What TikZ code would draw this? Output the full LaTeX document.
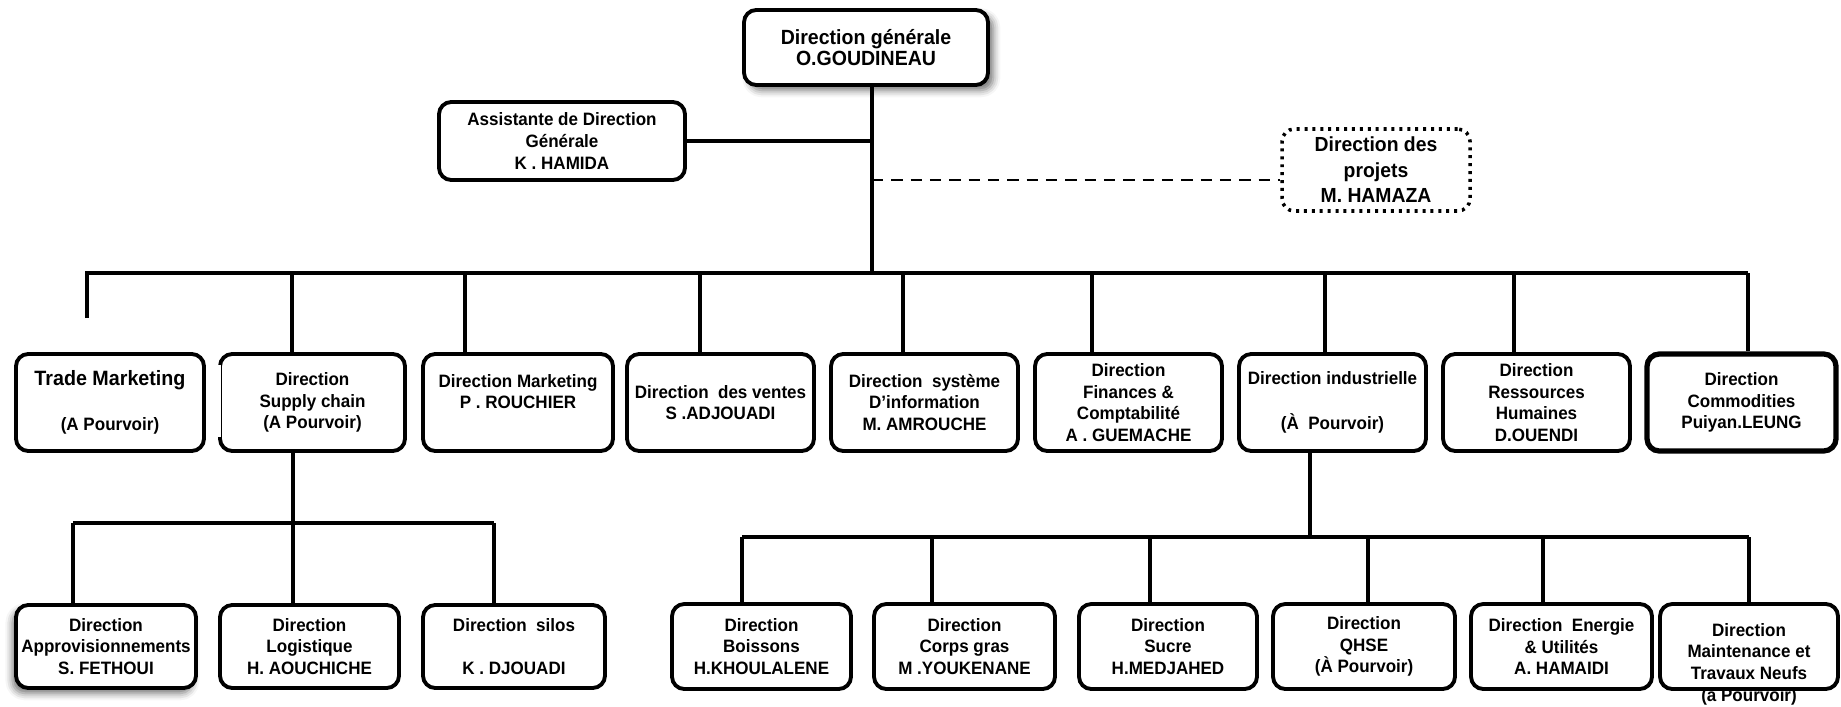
\documentclass[tikz,border=0pt]{standalone}
\usepackage{fontspec}
\setmainfont[FakeStretch=0.95]{Liberation Sans}
\usetikzlibrary{shadows.blur}
\tikzset{
  box/.style={draw, line width=2.2pt, rounded corners=7pt, fill=white, align=center,
    inner sep=0pt, font=\bfseries\fontsize{10.2}{12.3}\selectfont},
  txt/.style={align=center, inner sep=0pt, font=\bfseries\fontsize{10.2}{12.3}\selectfont},
  link/.style={line width=2.3pt},
  dashlink/.style={line width=1.4pt, dash pattern=on 6.5pt off 4.5pt},
  dotbox/.style={line width=2pt, dash pattern=on 1.7pt off 2.8pt},
  halo/.style={blur shadow={shadow xshift=#1, shadow yshift=-3pt, shadow blur radius=4pt, shadow opacity=55}},
}
\newcommand\orgbox[7][]{\node[box,minimum width={(#5-#3-4)*0.02cm},minimum height={(#6-#4-4)*0.02cm},#1] (#2) at ({(#3+#5)/2},{(#4+#6)/2}) {#7};}
\begin{document}
\begin{tikzpicture}[x=0.02cm,y=-0.02cm]
\useasboundingbox (0,0) rectangle (1841,706);
% top level
\orgbox[halo=3pt,font=\bfseries\fontsize{11.7}{12.2}\selectfont]{dg}{742}{8}{990}{87}{Direction générale\\O.GOUDINEAU}
\orgbox[font=\bfseries\fontsize{10.2}{12.7}\selectfont]{asst}{437}{100}{687}{182}{Assistante de Direction\\Générale\\K . HAMIDA}
\orgbox[dotbox,font=\bfseries\fontsize{11.6}{14.5}\selectfont]{proj}{1280}{127}{1472}{213}{Direction des\\projets\\M. HAMAZA}
% row 1
\orgbox{tm}{14}{352}{206}{453}{{\fontsize{11.8}{12}\selectfont Trade Marketing}\\[13pt](A Pourvoir)}
\orgbox{sc}{218}{352}{407}{453}{Direction\\Supply chain\\(A Pourvoir)}
\orgbox{mk}{421}{352}{615}{453}{Direction Marketing\\P . ROUCHIER\\\mbox{}}
\orgbox{ve}{625}{352}{816}{453}{Direction\ \ des ventes\\S .ADJOUADI}
\orgbox{si}{829}{352}{1020}{453}{Direction\ \ système\\D’information\\M. AMROUCHE}
\orgbox{fi}{1033}{352}{1224}{453}{Direction\\Finances \&\\Comptabilité\\A . GUEMACHE}
\orgbox{in}{1237}{352}{1428}{453}{Direction industrielle\\[13pt](À\ \ Pourvoir)}
\orgbox{rh}{1441}{352}{1632}{453}{Direction\\Ressources\\Humaines\\D.OUENDI}
\orgbox[line width=3pt]{co}{1645}{352}{1838}{453}{Direction\\Commodities\\Puiyan.LEUNG}
% row 2 left
\orgbox[halo=-2pt]{ap}{14}{603}{198}{690}{Direction\\Approvisionnements\\S. FETHOUI}
\orgbox{lo}{218}{603}{401}{690}{Direction\\Logistique\\H. AOUCHICHE}
\orgbox{sl}{421}{603}{607}{690}{Direction\ \ silos\\\mbox{}\\K . DJOUADI}
% row 2 right
\orgbox{bo}{670}{602}{853}{691}{Direction\\Boissons\\H.KHOULALENE}
\orgbox{cg}{872}{602}{1057}{691}{Direction\\Corps gras\\M .YOUKENANE}
\orgbox{su}{1077}{602}{1259}{691}{Direction\\Sucre\\H.MEDJAHED}
\orgbox{qh}{1271}{602}{1457}{691}{Direction\\QHSE\\(À Pourvoir)}
\orgbox{en}{1469}{602}{1654}{691}{Direction\ \ Energie\\\& Utilités\\A. HAMAIDI}
\orgbox{mt}{1658}{602}{1840}{691}{}
\node[txt,yshift=-0.35cm] (mtt) at (mt.center) {Direction\\Maintenance et\\Travaux Neufs\\(a Pourvoir)};
% missing left edge of supply chain box
\draw[white,line width=3.2pt] ([yshift=0.76cm]sc.west) -- ([yshift=-0.7cm]sc.west);
% connectors
\coordinate (top) at (872,273);
\draw[link] (dg.south -| top) -- (top);
\draw[link] (asst.east) -- (asst.east -| top);
\coordinate (dsh) at (872,180);
\draw[dashlink] (dsh) -- (dsh -| proj.west);
\coordinate (b1) at (87,273);
\coordinate (b9) at (1748,273);
\coordinate (tmend) at (87,318);
\draw[link] (tmend) -- (b1) -- (b9);
\foreach \n/\x in {sc/292,mk/465,ve/700,si/903,fi/1092,in/1325,rh/1514,co/1748}{
  \coordinate (t) at (\x,273);
  \draw[link] (t) -- (t |- \n.north);
}
\coordinate (j1) at (292.6,523);
\draw[link] (sc.south -| j1) -- (j1);
\coordinate (s1l) at (73,523);
\coordinate (s1r) at (494,523);
\draw[link] (s1l) -- (s1r);
\foreach \n/\x in {ap/73,lo/292.6,sl/494}{
  \coordinate (t) at (\x,523);
  \draw[link] (t) -- (t |- \n.north);
}
\coordinate (j2) at (1310,537);
\draw[link] (in.south -| j2) -- (j2);
\coordinate (s2l) at (742,537);
\coordinate (s2r) at (1749,537);
\draw[link] (s2l) -- (s2r);
\foreach \n/\x in {bo/742,cg/932,su/1150,qh/1368,en/1543,mt/1749}{
  \coordinate (t) at (\x,537);
  \draw[link] (t) -- (t |- \n.north);
}
\end{tikzpicture}
\end{document}
